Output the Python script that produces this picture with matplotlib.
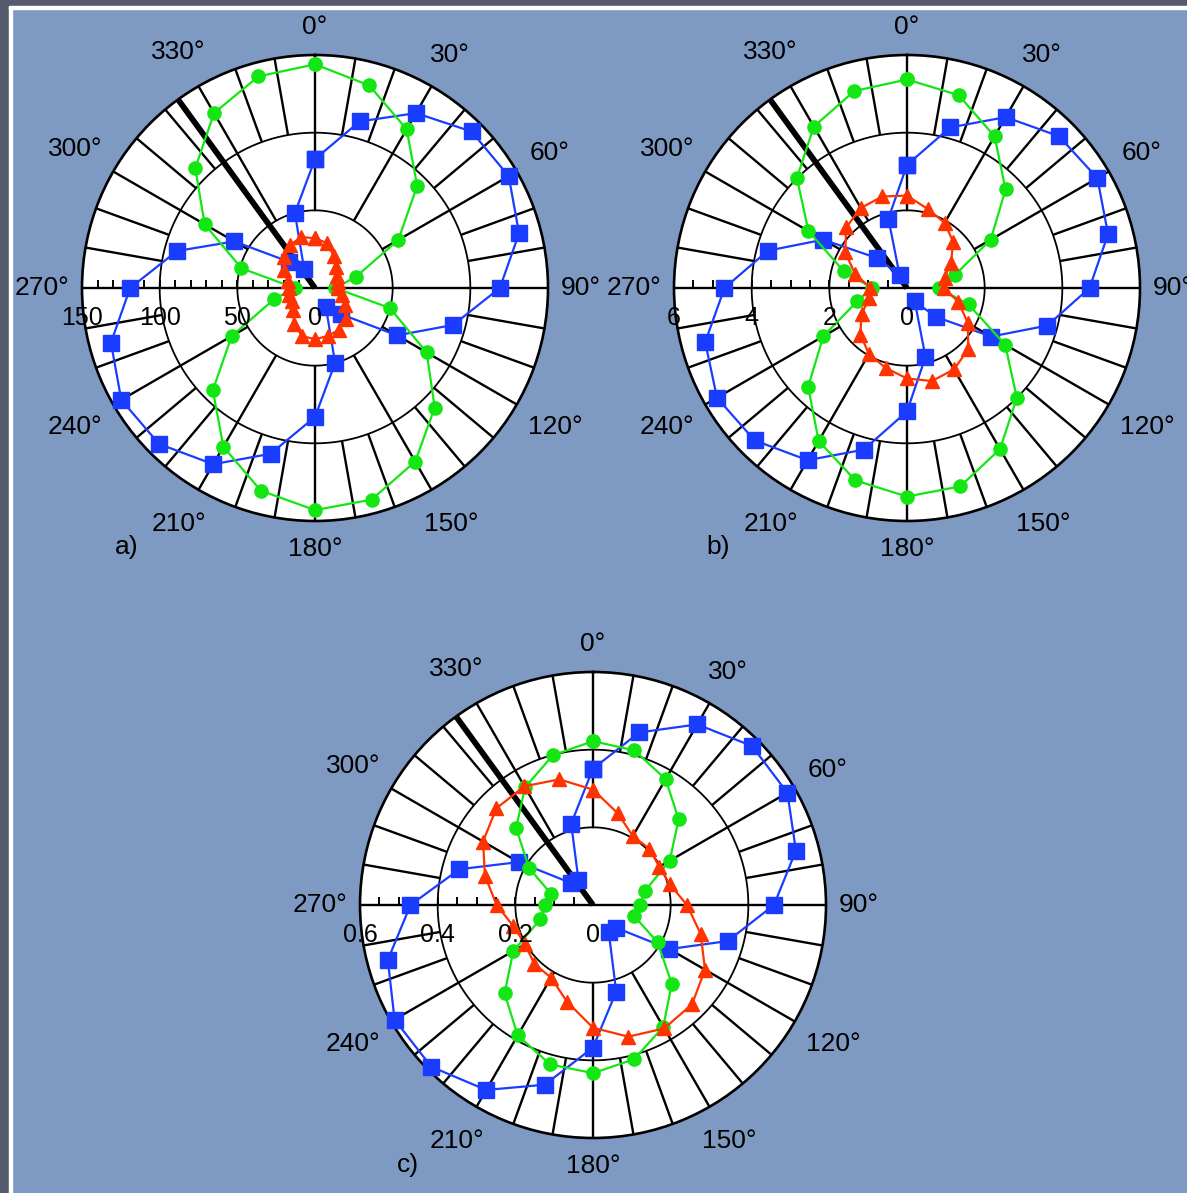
import numpy as np
import matplotlib
matplotlib.use('Agg')
import matplotlib.pyplot as plt
from matplotlib.patches import Rectangle
from matplotlib.transforms import offset_copy

plt.rcParams['font.family'] = ['Liberation Sans', 'DejaVu Sans']

W, H, DPI = 1187, 1193, 100

# ---------------- data (angle in degrees, clockwise from top) ----------------
angles_deg = np.arange(0, 360, 15)

a_blue = [83, 111, 130, 142.5, 144, 136, 119, 92, 61, 24, 14, 50,
          83, 110.5, 131, 142, 144, 136, 119, 92, 60, 24, 14, 50]
a_green = [144, 135, 118, 93, 62, 27, 13, 50, 83, 109, 129, 141,
           143, 135, 118, 93, 62, 27, 13, 49, 82, 109, 130, 141]
a_red = [32, 30, 24, 19, 16, 15, 15, 18, 22, 28, 31, 32,
         33, 32, 27, 20, 17, 17, 17, 18, 23, 28, 32, 34]

b_blue = [3.17, 4.28, 5.08, 5.53, 5.66, 5.36, 4.70, 3.74, 2.50, 1.05, 0.40, 1.84,
          3.18, 4.31, 5.12, 5.55, 5.65, 5.38, 4.70, 3.71, 2.49, 1.09, 0.38, 1.85]
b_green = [5.37, 5.14, 4.51, 3.59, 2.49, 1.27, 0.82, 1.64, 2.92, 4.00, 4.79, 5.29,
           5.37, 5.13, 4.55, 3.60, 2.49, 1.33, 0.90, 1.69, 2.93, 4.01, 4.80, 5.25]
b_red = [2.38, 2.10, 1.94, 1.68, 1.31, 1.00, 0.94, 1.37, 1.81, 2.23, 2.42, 2.48,
         2.33, 2.13, 1.96, 1.70, 1.35, 1.01, 0.94, 1.38, 1.84, 2.21, 2.38, 2.44]

c_blue = [0.351, 0.460, 0.537, 0.579, 0.578, 0.541, 0.466, 0.359, 0.227, 0.082, 0.081, 0.231,
          0.367, 0.479, 0.550, 0.589, 0.590, 0.547, 0.470, 0.356, 0.221, 0.080, 0.075, 0.217]
c_green = [0.422, 0.412, 0.374, 0.312, 0.228, 0.138, 0.122, 0.110, 0.192, 0.287, 0.362, 0.411,
           0.433, 0.425, 0.388, 0.322, 0.237, 0.140, 0.124, 0.112, 0.190, 0.280, 0.350, 0.399]
c_red = [0.297, 0.245, 0.205, 0.205, 0.197, 0.205, 0.242, 0.287, 0.333, 0.361, 0.367, 0.351,
         0.316, 0.258, 0.216, 0.214, 0.202, 0.212, 0.248, 0.288, 0.327, 0.352, 0.353, 0.335]

arrow_deg = 324

a_ticklabels = ['150', '100', '50', '0']
b_ticklabels = ['6', '4', '2', '0']
c_ticklabels = ['0.6', '0.4', '0.2', '0']
a_tickvals = [150, 100, 50, 0]
b_tickvals = [6, 4, 2, 0]
c_tickvals = [0.6, 0.4, 0.2, 0]

angle_labels = list(range(0, 360, 30))

# ---------------- styling ----------------
BLUE = '#1a3cff'
GREEN = '#14e614'
RED = '#ff3300'
BG = '#7f9ac2'
R_PX = 233
FS = 19
FS_TICK = 18

fig = plt.figure(figsize=(W / DPI, H / DPI), dpi=DPI)
fig.patch.set_facecolor(BG)

# slide frame decorations
fig.patches.append(Rectangle((0, 1 - 6 / H), 1, 6 / H, transform=fig.transFigure,
                             color='#555b6c', zorder=0))
fig.patches.append(Rectangle((0, 0), 9 / W, 1, transform=fig.transFigure,
                             color='#555b6c', zorder=0))
fig.patches.append(Rectangle((9 / W, 1 - 9 / H), 1, 2.5 / H, transform=fig.transFigure,
                             color='white', zorder=1))
fig.patches.append(Rectangle((9 / W, 0), 2.5 / W, 1 - 7 / H, transform=fig.transFigure,
                             color='white', zorder=1))


def closed(vals):
    th = np.deg2rad(np.append(angles_deg, 360))
    r = np.append(vals, vals[0])
    return th, r


def draw_panel(cx, cy, rmax, tick_step, tick_vals, tick_txt, blue, green, red,
               letter, letter_xy):
    ax = fig.add_axes([(cx - R_PX) / W, 1 - (cy + R_PX) / H, 2 * R_PX / W, 2 * R_PX / H],
                      projection='polar')
    ax.set_theta_zero_location('N')
    ax.set_theta_direction(-1)
    ax.set_ylim(0, rmax)
    ax.set_xticks([])
    ax.set_yticks([])
    ax.grid(False)
    ax.set_facecolor('white')
    ax.spines['polar'].set_linewidth(1.9)
    ax.spines['polar'].set_color('black')

    th = np.linspace(0, 2 * np.pi, 721)
    for rr in (rmax / 3, 2 * rmax / 3):
        ax.plot(th, np.full_like(th, rr), color='black', lw=1.3, zorder=1)

    for deg in range(0, 360, 10):
        if deg in (90, 270):
            r0 = 0
        elif deg % 30 == 0:
            r0 = rmax / 3
        else:
            r0 = 2 * rmax / 3
        t = np.deg2rad(deg)
        ax.plot([t, t], [r0, rmax], color='black', lw=1.7,
                solid_capstyle='butt', zorder=1)

    # minor ticks along the 270 deg axis
    tr = np.arange(tick_step, rmax + tick_step * 0.01, tick_step)
    ax.plot(np.full(len(tr), np.deg2rad(270)), tr, linestyle='none', marker=2,
            ms=6, mew=1.4, color='black', zorder=1, clip_on=False)

    # direction arrow
    ta = np.deg2rad(arrow_deg)
    ax.plot([ta, ta], [0, rmax], color='black', lw=4.2, solid_capstyle='butt', zorder=2)

    for vals, col, mk, ms in ((blue, BLUE, 's', 11), (green, GREEN, 'o', 9.5),
                              (red, RED, '^', 10)):
        t, r = closed(vals)
        ax.plot(t, r, color=col, lw=1.6, marker=mk, ms=ms, mfc=col, mec=col,
                zorder=3, clip_on=False)

    # angle labels
    em = FS * DPI / 72
    for deg in angle_labels:
        txt = f'{deg}\u00b0'
        w = (len(str(deg)) * 0.556 + 0.4) * em
        s, c = abs(np.sin(np.deg2rad(deg))), abs(np.cos(np.deg2rad(deg)))
        d = R_PX + 13 + (w / 2) * s + 15 * c
        ax.text(np.deg2rad(deg), rmax * d / R_PX, txt, ha='center', va='center',
                fontsize=FS, color='black', clip_on=False)

    # radial tick labels below the 270 deg axis
    trans = offset_copy(ax.transData, fig=fig, x=0, y=-30, units='dots')
    for v, s_ in zip(tick_vals, tick_txt):
        ax.text(np.deg2rad(270), v, s_, transform=trans, ha='center', va='center',
                fontsize=FS_TICK, color='black', clip_on=False, zorder=5)

    fig.text(letter_xy[0] / W, 1 - letter_xy[1] / H, letter, ha='center', va='center',
             fontsize=FS, color='black')
    return ax


draw_panel(315, 288, 150, 10, a_tickvals, a_ticklabels, a_blue, a_green, a_red,
           'a)', (127, 547))
draw_panel(907, 288, 6, 0.5, b_tickvals, b_ticklabels, b_blue, b_green, b_red,
           'b)', (718, 547))
draw_panel(593, 905, 0.6, 0.05, c_tickvals, c_ticklabels, c_blue, c_green, c_red,
           'c)', (408, 1165))

fig.savefig('out.png', dpi=DPI, facecolor=fig.get_facecolor())
